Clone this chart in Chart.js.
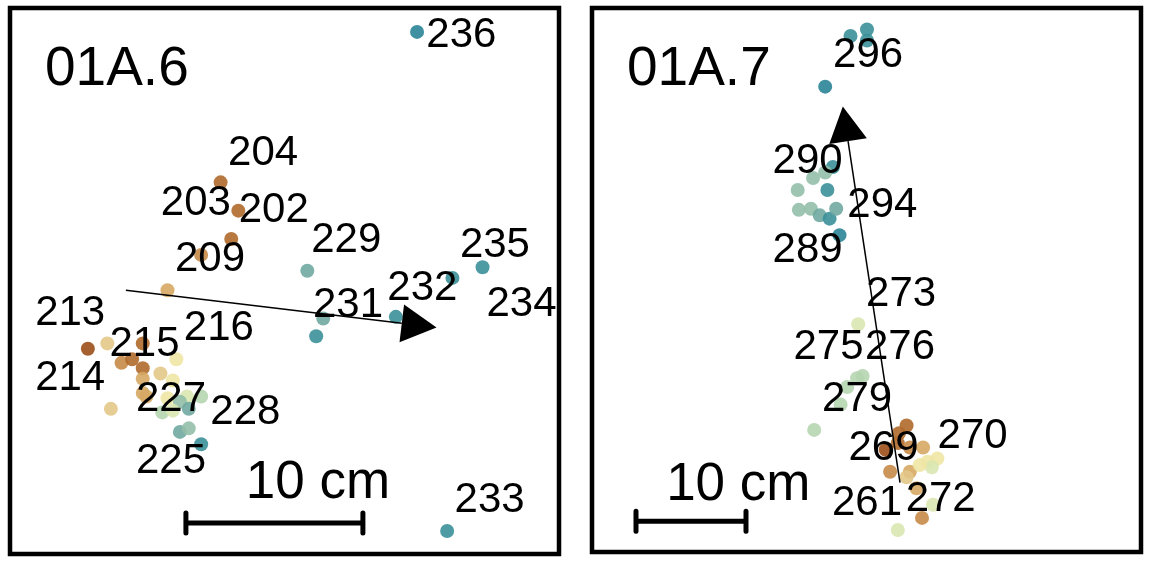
<!DOCTYPE html>
<html>
<head>
<meta charset="utf-8">
<script src="https://cdn.jsdelivr.net/npm/chart.js@4/dist/chart.umd.min.js"></script>
<style>
html, body { margin: 0; padding: 0; background: #fff; }
#wrap { position: relative; width: 1152px; height: 563px; }
.panel { position: absolute; top: 0; width: 576px; height: 563px; }
#panel-a { left: 0; }
#panel-b { left: 576px; }
</style>
</head>
<body>
<div id="wrap">
  <div class="panel" id="panel-a"><canvas id="chart-a"></canvas></div>
  <div class="panel" id="panel-b"><canvas id="chart-b"></canvas></div>
</div>
<script>
// positions in cm, origin at lower-left corner of each panel
// tone: 0 = dark brown ... 11 = dark teal
var aX = [23.0, 11.9, 12.9, 12.5, 10.8, 8.9, 4.4, 5.5, 7.5, 6.3, 6.9, 9.4, 7.5, 8.5, 7.5, 9.2, 7.5, 7.7,
          8.9, 10.0, 10.8, 9.6, 10.1, 8.6, 9.2, 5.7, 9.6, 10.1, 10.8, 16.8, 25.0, 26.7, 17.7, 21.8, 17.3, 24.7];
var aY = [29.5, 21.0, 19.4, 17.8, 16.9, 14.9, 11.6, 11.9, 11.9, 10.8, 11.0, 11.0, 10.5, 10.2, 9.9, 9.8, 9.1, 8.9,
          8.8, 8.9, 8.9, 8.6, 8.2, 8.0, 8.1, 8.2, 6.9, 7.1, 6.2, 16.0, 15.6, 16.2, 13.3, 13.4, 12.3, 1.3];
var aTone = [11, 1, 1, 1, 2, 3, 0, 4, 1, 2, 1, 5, 1, 4, 3, 5, 3, 3,
             5, 6, 7, 8, 9, 7, 6, 4, 9, 8, 10, 9, 10, 10, 9, 10, 10, 10];

var bX = [23.5, 25.0, 25.0, 21.2, 21.9, 21.2, 20.1, 18.7, 21.4, 18.8, 19.9, 20.7, 21.6, 22.2, 22.5,
          24.2, 24.6, 24.1, 23.2, 22.6, 20.2, 28.6, 27.9, 26.7, 27.8, 28.9, 30.1, 27.1, 28.9, 28.6,
          30.5, 31.4, 30.9, 29.8, 29.5, 31.0, 30.0, 27.8];
var bY = [46.9, 47.5, 46.5, 42.3, 35.0, 34.5, 34.0, 32.9, 32.9, 31.1, 31.2, 30.6, 30.3, 31.2, 28.8,
          20.7, 16.0, 15.8, 15.0, 13.4, 11.1, 11.5, 10.8, 9.3, 9.9, 9.5, 9.5, 7.3, 7.3, 6.8,
          8.2, 8.5, 7.7, 7.9, 5.8, 4.3, 3.1, 2.0];
var bTone = [10, 10, 10, 11, 10, 8, 8, 8, 10, 8, 8, 9, 10, 9, 11,
             6, 7, 7, 7, 7, 7, 1, 1, 0, 1, 2, 3, 2, 3, 4,
             5, 5, 6, 5, 3, 6, 2, 6];

var aLabels = ['236', '204', '203', '202', '229', '235', '209', '232', '234', '231',
               '213', '216', '215', '214', '227', '228', '225', '233'];
var aLabelX = [25.5, 14.3, 10.5, 14.9, 19.0, 27.4, 11.3, 23.3, 28.9, 19.1,
               3.4, 11.8, 7.6, 3.4, 9.1, 13.3, 9.1, 27.1];
var aLabelY = [29.4, 22.7, 19.9, 19.5, 17.8, 17.5, 16.7, 15.1, 14.2, 14.1,
               13.7, 12.8, 11.9, 10.0, 8.8, 8.1, 5.3, 3.1];

var bLabels = ['296', '290', '294', '289', '273', '275', '276', '279', '270', '269', '261', '272'];
var bLabelX = [25.1, 19.6, 26.4, 19.6, 28.1, 21.5, 28.0, 24.1, 34.6, 26.5, 25.0, 31.7];
var bLabelY = [45.3, 35.6, 31.6, 27.5, 23.5, 18.7, 18.7, 14.0, 10.6, 9.5, 4.5, 4.9];

// direction arrows: from [x, y] to [x, y]
var aArrow = [6.55, 14.9, 24.1, 12.8];
var bArrow = [28.0, 6.3, 22.8, 40.5];

var palette = ['#9c4f19', '#b06a2c', '#c68a48', '#d6a963', '#e3c888', '#efe6a4',
               '#d9e7b0', '#b5d5b0', '#94bfa8', '#6fa9a0', '#3b9099', '#2a8597'];

function panelDecor(p) {
    return {
        id: 'panelDecor',
        afterDatasetsDraw: function(chart) {
            var ctx = chart.ctx;
            var xs = chart.scales.x, ys = chart.scales.y;
            var area = chart.chartArea;
            var px = function(v) { return xs.getPixelForValue(v); };
            var py = function(v) { return ys.getPixelForValue(v); };
            ctx.save();

            // arrow
            var x0 = px(p.arrow[0]), y0 = py(p.arrow[1]);
            var x1 = px(p.arrow[2]), y1 = py(p.arrow[3]);
            var ang = Math.atan2(y1 - y0, x1 - x0);
            var headLen = 35, headW = 19;
            var bx = x1 - headLen * Math.cos(ang), by = y1 - headLen * Math.sin(ang);
            ctx.strokeStyle = '#000';
            ctx.fillStyle = '#000';
            ctx.lineWidth = 1.5;
            ctx.beginPath();
            ctx.moveTo(x0, y0);
            ctx.lineTo(bx, by);
            ctx.stroke();
            ctx.beginPath();
            ctx.moveTo(x1, y1);
            ctx.lineTo(bx + headW * Math.sin(ang), by - headW * Math.cos(ang));
            ctx.lineTo(bx - headW * Math.sin(ang), by + headW * Math.cos(ang));
            ctx.closePath();
            ctx.fill();

            // point labels
            ctx.font = "42px 'Liberation Sans', Arial, sans-serif";
            ctx.textAlign = 'center';
            ctx.textBaseline = 'alphabetic';
            for (var i = 0; i < p.labels.length; i++) {
                ctx.fillText(p.labels[i], px(p.labelX[i]), py(p.labelY[i]) + 13);
            }

            // scale bar, 10 cm
            var sx0 = px(p.bar[0]), sx1 = px(p.bar[0] + 10), sy = py(p.bar[1]);
            ctx.lineWidth = 5;
            ctx.lineCap = 'round';
            ctx.beginPath();
            ctx.moveTo(sx0, sy); ctx.lineTo(sx1, sy);
            ctx.moveTo(sx0, sy - 10); ctx.lineTo(sx0, sy + 10);
            ctx.moveTo(sx1, sy - 10); ctx.lineTo(sx1, sy + 10);
            ctx.stroke();
            ctx.font = "53px 'Liberation Sans', Arial, sans-serif";
            ctx.fillText('10 cm', px(p.barText[0]), py(p.barText[1]) + 17);

            // panel title
            ctx.textAlign = 'left';
            ctx.font = "55px 'Liberation Sans', Arial, sans-serif";
            ctx.fillText(p.title, area.left + 35, area.top + 77);

            // frame
            ctx.lineCap = 'butt';
            ctx.lineWidth = 4.5;
            ctx.strokeRect(area.left, area.top, area.right - area.left, area.bottom - area.top);
            ctx.restore();
        }
    };
}

function initPanel(id, p) {
    var canvas = document.getElementById(id);
    var points = p.x.map(function(v, i) { return { x: v, y: p.y[i] }; });
    var colors = p.tone.map(function(t) { return palette[t] + 'e6'; });
    return new Chart(canvas, {
        type: 'scatter',
        data: {
            datasets: [{
                data: points,
                pointBackgroundColor: colors,
                pointBorderWidth: 0,
                pointRadius: 7,
                pointHoverRadius: 7
            }]
        },
        options: {
            responsive: true,
            maintainAspectRatio: false,
            animation: false,
            layout: { padding: p.padding },
            scales: {
                x: { type: 'linear', display: false, min: 0, max: p.xMax },
                y: { type: 'linear', display: false, min: 0, max: p.yMax }
            },
            plugins: {
                legend: { display: false },
                tooltip: { enabled: false }
            }
        },
        plugins: [panelDecor(p)]
    });
}

document.addEventListener('DOMContentLoaded', function() {
    initPanel('chart-a', {
        title: '01A.6',
        x: aX, y: aY, tone: aTone,
        labels: aLabels, labelX: aLabelX, labelY: aLabelY,
        arrow: aArrow,
        bar: [9.94, 1.75], barText: [17.4, 4.12],
        xMax: 31.02, yMax: 30.85,
        padding: { left: 10, top: 8, right: 17, bottom: 9 }
    });
    initPanel('chart-b', {
        title: '01A.7',
        x: bX, y: bY, tone: bTone,
        labels: bLabels, labelX: bLabelX, labelY: bLabelY,
        arrow: bArrow,
        bar: [4.0, 2.8], barText: [13.3, 6.27],
        xMax: 49.91, yMax: 49.45,
        padding: { left: 16, top: 8, right: 11, bottom: 11 }
    });
});
</script>
</body>
</html>
